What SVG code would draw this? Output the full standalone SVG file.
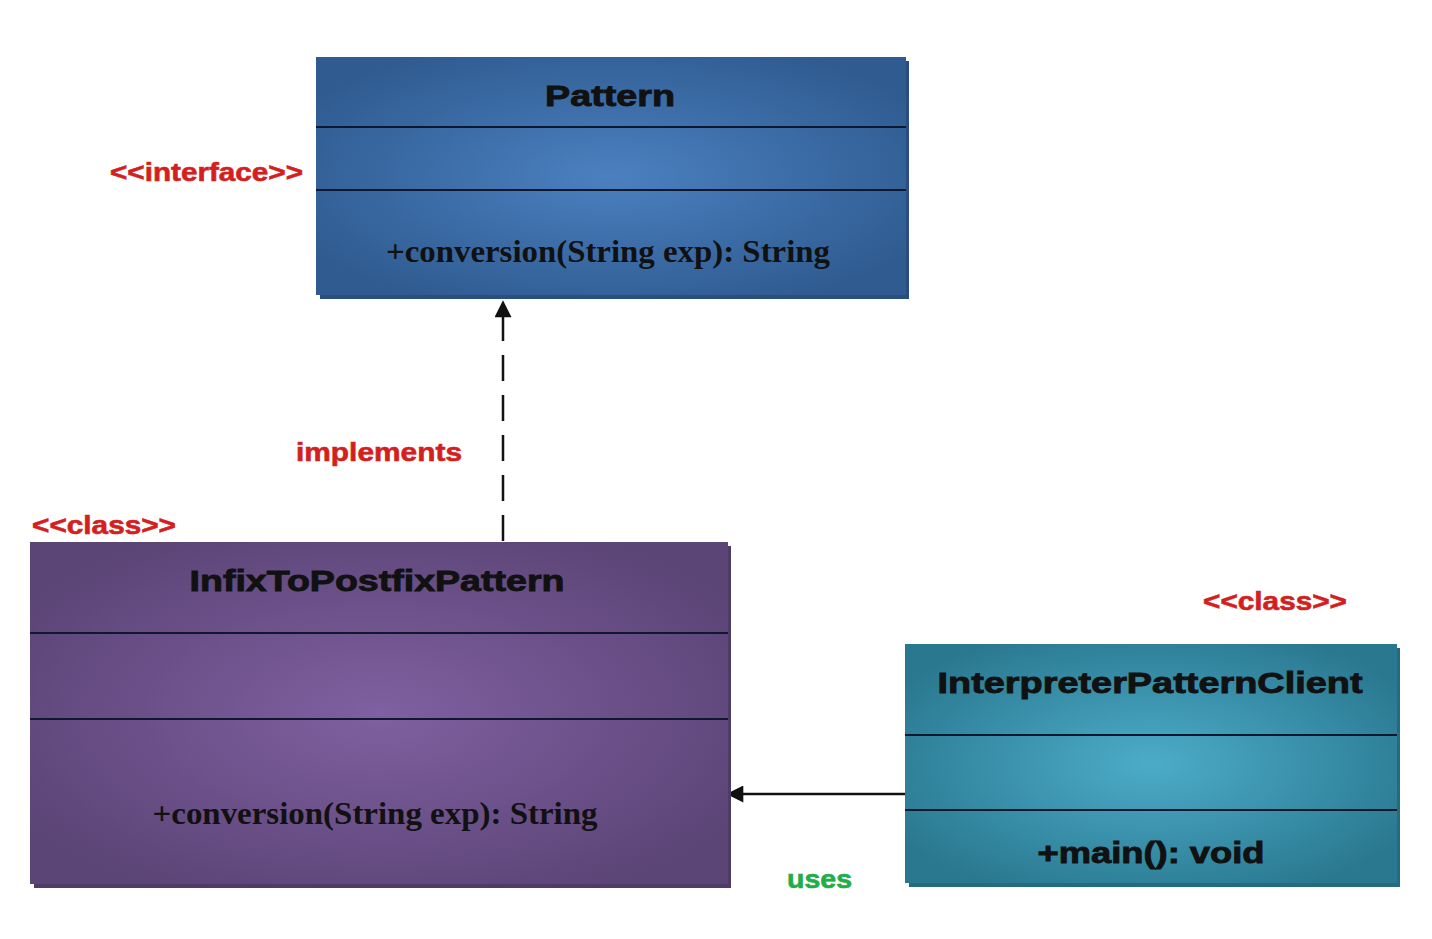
<svg xmlns="http://www.w3.org/2000/svg" width="1432" height="939" viewBox="0 0 1432 939">
<style>
.title{font-family:"Liberation Sans",Arial,sans-serif;font-weight:bold;font-size:30px;fill:#111;stroke:#111;stroke-width:0.9;text-anchor:middle}
.meth{font-family:"Liberation Serif","Times New Roman",serif;font-weight:bold;font-size:32px;fill:#111;text-anchor:middle}
.ster{font-family:"Liberation Sans",Arial,sans-serif;font-weight:bold;font-size:25px;fill:#d41f1f;stroke:#d41f1f;stroke-width:0.6}
.uses{font-family:"Liberation Sans",Arial,sans-serif;font-weight:bold;font-size:25px;fill:#1fae4a;stroke:#1fae4a;stroke-width:0.6}
.div{stroke:#101830;stroke-width:2}
.conn{stroke:#111;stroke-width:2.5;fill:none}
</style>
<defs>
<radialGradient id="gBlue" cx="0.5" cy="0.5" r="0.6">
<stop offset="0" stop-color="#4b80c0"/><stop offset="1" stop-color="#2f5b90"/>
</radialGradient>
<radialGradient id="gPurple" cx="0.5" cy="0.5" r="0.6">
<stop offset="0" stop-color="#7f60a0"/><stop offset="1" stop-color="#5b4476"/>
</radialGradient>
<radialGradient id="gTeal" cx="0.5" cy="0.5" r="0.6">
<stop offset="0" stop-color="#4cacc8"/><stop offset="1" stop-color="#2a7890"/>
</radialGradient>
<marker id="arrowBig" viewBox="0 0 10 10" refX="9" refY="5" markerWidth="20" markerHeight="17" markerUnits="userSpaceOnUse" orient="auto">
<path d="M0,0 L10,5 L0,10 Z" fill="#111"/>
</marker>
</defs>
<rect width="1432" height="939" fill="#ffffff"/>

<g id="connectors">
<line class="conn" x1="503" y1="541" x2="503" y2="302" stroke-dasharray="26,14" marker-end="url(#arrowBig)"/>
<line class="conn" x1="905" y1="794" x2="728" y2="794" marker-end="url(#arrowBig)"/>
</g>

<g id="pattern">
<rect x="320" y="61" width="589" height="238" fill="#2a4f7e"/>
<rect x="316" y="57" width="590" height="238" fill="url(#gBlue)"/>
<line class="div" x1="316" y1="127" x2="906" y2="127"/>
<line class="div" x1="316" y1="190" x2="906" y2="190"/>
<text class="title" x="610" y="106" textLength="130" lengthAdjust="spacingAndGlyphs">Pattern</text>
<text class="meth" x="608" y="262" textLength="444" lengthAdjust="spacingAndGlyphs">+conversion(String exp): String</text>
</g>
<text class="ster" x="110" y="181" textLength="193" lengthAdjust="spacingAndGlyphs">&lt;&lt;interface&gt;&gt;</text>

<g id="infix">
<rect x="34" y="546" width="697" height="342" fill="#4f3b67"/>
<rect x="30" y="542" width="698" height="342" fill="url(#gPurple)"/>
<line class="div" x1="30" y1="633" x2="728" y2="633"/>
<line class="div" x1="30" y1="719" x2="728" y2="719"/>
<text class="title" x="377" y="591" textLength="375" lengthAdjust="spacingAndGlyphs">InfixToPostfixPattern</text>
<text class="meth" x="375" y="824" textLength="445" lengthAdjust="spacingAndGlyphs">+conversion(String exp): String</text>
</g>
<text class="ster" x="32" y="534" textLength="144" lengthAdjust="spacingAndGlyphs">&lt;&lt;class&gt;&gt;</text>
<text class="ster" x="296" y="461" textLength="166" lengthAdjust="spacingAndGlyphs">implements</text>

<g id="client">
<rect x="909" y="648" width="491" height="239" fill="#256b80"/>
<rect x="905" y="644" width="492" height="239" fill="url(#gTeal)"/>
<line class="div" x1="905" y1="735" x2="1397" y2="735"/>
<line class="div" x1="905" y1="810" x2="1397" y2="810"/>
<text class="title" x="1150" y="693" textLength="425" lengthAdjust="spacingAndGlyphs">InterpreterPatternClient</text>
<text class="title" x="1151" y="863" textLength="227" lengthAdjust="spacingAndGlyphs">+main(): void</text>
</g>
<text class="ster" x="1203" y="610" textLength="144" lengthAdjust="spacingAndGlyphs">&lt;&lt;class&gt;&gt;</text>
<text class="uses" x="787" y="888" textLength="65" lengthAdjust="spacingAndGlyphs">uses</text>
</svg>
